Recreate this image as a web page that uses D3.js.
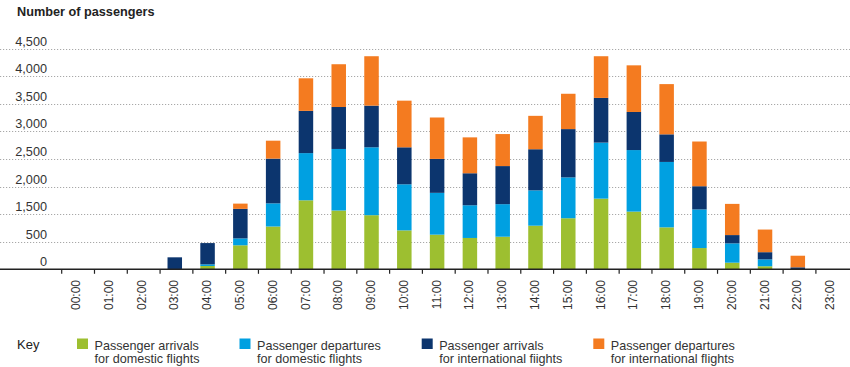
<!DOCTYPE html>
<html>
<head>
<meta charset="utf-8">
<script src="https://cdn.jsdelivr.net/npm/d3@7"></script>
<style>
  html, body { margin: 0; padding: 0; background: #fff; }
  svg { display: block; font-family: "Liberation Sans", Arial, Helvetica, sans-serif; }
</style>
</head>
<body>
<svg id="chart" width="850" height="367"></svg>
<script>
// ---- data ----
const hours = ["00:00","01:00","02:00","03:00","04:00","05:00","06:00","07:00","08:00","09:00","10:00","11:00",
               "12:00","13:00","14:00","15:00","16:00","17:00","18:00","19:00","20:00","21:00","22:00","23:00"];
const arrivalsDomestic     = [0,0,0,0,60,435,1050,1750,1565,1460,910,755,635,680,1080,1350,1780,1545,1020,385,120,55,0,0];
const departuresDomestic   = [0,0,0,0,30,185,645,855,1115,1250,1130,1130,1025,1000,850,815,1015,1115,1425,1200,350,125,0,0];
const arrivalsInternational   = [0,0,0,217,385,975,810,765,760,755,670,615,580,690,745,875,810,690,500,420,270,130,36,0];
const departuresInternational = [0,0,0,0,0,95,325,590,775,895,845,750,650,580,605,640,755,845,910,810,945,630,210,0];
const seriesKeys = ["arrDom","depDom","arrInt","depInt"];
const seriesLabels = [
  ["Passenger arrivals", "for domestic flights"],
  ["Passenger departures", "for domestic flights"],
  ["Passenger arrivals", "for international fiights"],
  ["Passenger departures", "for international flights"]
];
const colors = ["#9dbf30", "#00a0e1", "#0c356e", "#f47b20"];
const tickValues = [0, 500, 1500, 2000, 2500, 3000, 3500, 4000, 4500];
const tickLabels = ["0", "500", "1,500", "2,000", "2,500", "3,000", "3,500", "4,000", "4,500"];
const title = "Number of passengers";
const keyTitle = "Key";

// ---- build table ----
const table = hours.map((h, i) => ({
  hour: h,
  arrDom: arrivalsDomestic[i],
  depDom: departuresDomestic[i],
  arrInt: arrivalsInternational[i],
  depInt: departuresInternational[i]
}));
const stacked = d3.stack().keys(seriesKeys)(table);

const svg = d3.select("#chart");
const W = 850;
const baseY = 269.3;

// y-scale: evenly spaced tick positions as in the original
const y = d3.scaleLinear()
  .domain(tickValues)
  .range(tickValues.map((d, i) => baseY - i * 27.6));

const x = d3.scaleBand().domain(hours).range([60, 847]).padding(0);
const barW = 14.5;

// title
svg.append("text")
  .attr("x", 17).attr("y", 16)
  .attr("font-size", 12.7).attr("font-weight", "bold").attr("fill", "#222")
  .text(title);

// gridlines
svg.append("g").selectAll("line")
  .data(tickValues.slice(1))
  .join("line")
  .attr("x1", 0).attr("x2", W)
  .attr("y1", d => Math.round(y(d)) + 0.5).attr("y2", d => Math.round(y(d)) + 0.5)
  .attr("stroke", "#a8a8a8").attr("stroke-width", 1)
  .attr("stroke-dasharray", "1.2,1.8");

// y labels
svg.append("g").selectAll("text")
  .data(tickValues)
  .join("text")
  .attr("x", 47).attr("y", d => y(d) - 3)
  .attr("text-anchor", "end")
  .attr("font-size", 12.7).attr("fill", "#333")
  .text((d, i) => tickLabels[i]);

// bars
svg.append("g").selectAll("g")
  .data(stacked)
  .join("g")
  .attr("fill", (d, i) => colors[i])
  .selectAll("rect")
  .data(d => d)
  .join("rect")
  .attr("x", d => x(d.data.hour) + (x.bandwidth() - barW) / 2)
  .attr("width", barW)
  .attr("y", d => y(d[1]))
  .attr("height", d => Math.max(0, y(d[0]) - y(d[1])));

// x axis line
svg.append("line")
  .attr("x1", 0).attr("x2", W)
  .attr("y1", baseY).attr("y2", baseY)
  .attr("stroke", "#222").attr("stroke-width", 1.6);

// ticks at band boundaries
svg.append("g").selectAll("line")
  .data(hours)
  .join("line")
  .attr("x1", d => x(d) + 1.7).attr("x2", d => x(d) + 1.7)
  .attr("y1", baseY).attr("y2", baseY + 4.5)
  .attr("stroke", "#222").attr("stroke-width", 1.2);

// x labels (rotated)
svg.append("g").selectAll("text")
  .data(hours)
  .join("text")
  .attr("transform", d => `translate(${x(d) + x.bandwidth() / 2 - 0.6},280) rotate(-90)`)
  .attr("text-anchor", "end")
  .attr("dy", "0.35em")
  .attr("font-size", 12).attr("fill", "#333")
  .text(d => d);

// legend
svg.append("text")
  .attr("x", 17).attr("y", 348.5)
  .attr("font-size", 13).attr("fill", "#222")
  .text(keyTitle);

const legendX = [77, 239.5, 421.7, 593.3];
const leg = svg.append("g").selectAll("g")
  .data(seriesLabels)
  .join("g")
  .attr("transform", (d, i) => `translate(${legendX[i]},0)`);
leg.append("rect")
  .attr("x", 0).attr("y", 338.5).attr("width", 11).attr("height", 10.5)
  .attr("fill", (d, i) => colors[i]);
leg.each(function(d) {
  const t = d3.select(this).append("text")
    .attr("font-size", 12.6).attr("fill", "#333");
  t.selectAll("tspan").data(d).join("tspan")
    .attr("x", 17.5)
    .attr("y", (s, j) => 349.5 + j * 13.2)
    .text(s => s);
});
</script>
</body>
</html>
